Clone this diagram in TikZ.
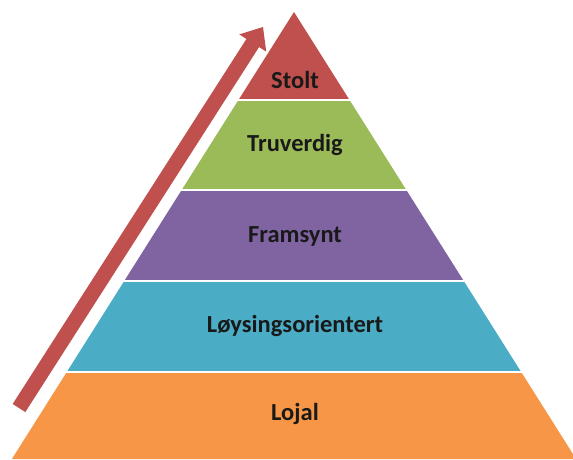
\documentclass[tikz,border=0pt]{standalone}
\usepackage{fontspec}
\setmainfont{Carlito}
\usetikzlibrary{calc}
\definecolor{cRed}{HTML}{C0504D}
\definecolor{cGreen}{HTML}{9BBB59}
\definecolor{cPurple}{HTML}{8064A2}
\definecolor{cBlue}{HTML}{4BACC6}
\definecolor{cOrange}{HTML}{F79646}
\tikzset{
  lbl/.style={font=\fontsize{24.5}{28}\selectfont\bfseries, text=black!90, inner sep=0pt},
  sep/.style={draw=white, line width=2pt}
}
\begin{document}
\begin{tikzpicture}[x=1pt,y=-1pt]
\useasboundingbox (0,0) rectangle (573,459);
\clip (0,0) rectangle (573,459);
\fill[white] (0,0) rectangle (573,459);
\coordinate (A) at (294,12);
\coordinate (BL) at (11.9,459);
\coordinate (BR) at (576.1,459);
% layer boundary points
\foreach \n/\y in {1/100,2/190,3/281,4/372}{
  \coordinate (L\n) at ($(A)!{(\y-12)/447}!(BL)$);
  \coordinate (R\n) at ($(A)!{(\y-12)/447}!(BR)$);
}
\fill[cRed] (A) -- (L1) -- (R1) -- cycle;
\fill[cGreen] (L1) -- (L2) -- (R2) -- (R1) -- cycle;
\fill[cPurple] (L2) -- (L3) -- (R3) -- (R2) -- cycle;
\fill[cBlue] (L3) -- (L4) -- (R4) -- (R3) -- cycle;
\fill[cOrange] (L4) -- (BL) -- (BR) -- (R4) -- cycle;
\foreach \n in {1,2,3,4}{ \draw[sep] ($(L\n)+(-3,0)$) -- ($(R\n)+(3,0)$); }
\node[lbl] (stolt) at (295,80) {Stolt};
\node[lbl] (truv) at (295,145) {Truverdig};
\node[lbl] (fram) at (295,236) {Framsynt};
\node[lbl] (loys) at (295,326) {Løysingsorientert};
\node[lbl] (lojal) at (295,414) {Lojal};
% arrow
\coordinate (T) at (19,408);
\coordinate (P) at (263,27);
\coordinate (B) at ($(P)!19pt!(T)$);
\fill[cRed] ($(T)!7.5pt!90:(P)$) -- ($(B)!7.5pt!90:(P)$) -- ($(B)!16pt!90:(P)$) -- (P)
  -- ($(B)!16pt!-90:(P)$) -- ($(B)!7.5pt!-90:(P)$) -- ($(T)!7.5pt!-90:(P)$) -- cycle;
\end{tikzpicture}
\end{document}
